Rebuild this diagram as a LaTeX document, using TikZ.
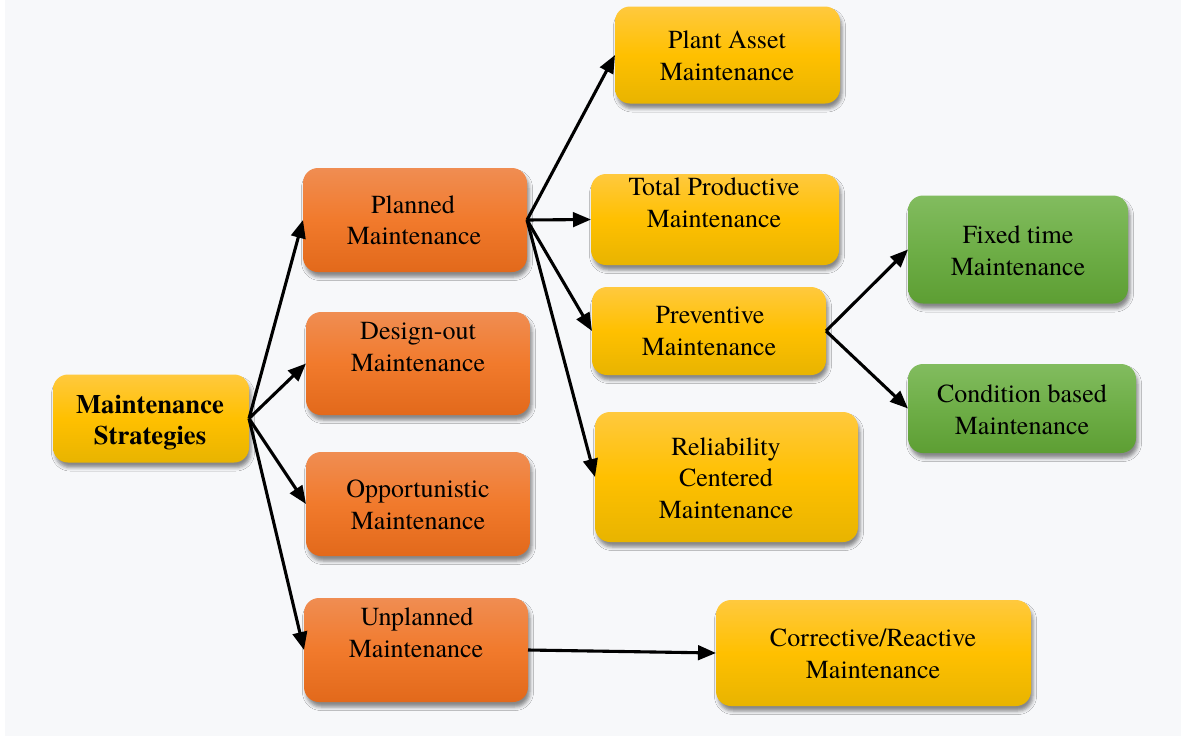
\documentclass[tikz,border=0pt]{standalone}
\usepackage{fontspec}
\setmainfont{texgyretermes}[Extension=.otf, UprightFont=*-regular, BoldFont=*-bold]
\newfontfamily\tnr{texgyretermes}[Extension=.otf, UprightFont=*-regular, BoldFont=*-bold]
\usetikzlibrary{arrows.meta,shadows.blur}
\definecolor{bgc}{HTML}{F7F8FA}
\definecolor{orT}{HTML}{F08D52}
\definecolor{orM}{HTML}{F17A2C}
\definecolor{orB}{HTML}{E2691B}
\definecolor{yeT}{HTML}{FFC93E}
\definecolor{yeM}{HTML}{FFC000}
\definecolor{yeB}{HTML}{E8B400}
\definecolor{grT}{HTML}{82BC5F}
\definecolor{grM}{HTML}{6EAE47}
\definecolor{grB}{HTML}{5D9E33}
\tikzset{
  boxbase/.style={rectangle, rounded corners=15pt, inner sep=0pt, outer sep=0pt,
    blur shadow={shadow xshift=2pt, shadow yshift=-5pt, shadow blur radius=3.5pt, shadow opacity=45}},
  obox/.style={boxbase, top color=orT, bottom color=orB, middle color=orM},
  ybox/.style={boxbase, top color=yeT, bottom color=yeB, middle color=yeM},
  gbox/.style={boxbase, top color=grT, bottom color=grB, middle color=grM},
  lbl/.style={anchor=base, inner sep=0pt, font=\tnr\fontsize{26}{32}\selectfont, text=black},
  blbl/.style={lbl, font=\tnr\fontsize{26.6}{32}\selectfont\bfseries},
  arr/.style={line width=3.1pt, -{Triangle[length=18pt,width=14.5pt]}}
}
\begin{document}
\begin{tikzpicture}[x=1pt,y=-1pt]
\useasboundingbox (0,0) rectangle (1181,736);
\fill[white] (0,0) rectangle (1181,736);
\fill[bgc] (5,0) rectangle (1181,736);

% boxes
\node[ybox, minimum width=196pt, minimum height=88pt] (ms) at (151,418.5) {};
\node[obox, minimum width=224pt, minimum height=104pt] (pm) at (415,220) {};
\node[obox, minimum width=224pt, minimum height=103pt] (dm) at (418,363.5) {};
\node[obox, minimum width=224pt, minimum height=104pt] (om) at (418,504) {};
\node[obox, minimum width=224pt, minimum height=104pt] (um) at (416,650) {};
\node[ybox, minimum width=225pt, minimum height=97pt] (pa) at (727.5,55) {};
\node[ybox, minimum width=248pt, minimum height=91pt] (tp) at (715,219.5) {};
\node[ybox, minimum width=234pt, minimum height=88pt] (pv) at (709,331) {};
\node[ybox, minimum width=263pt, minimum height=130pt] (rc) at (726.5,477) {};
\node[ybox, minimum width=315pt, minimum height=106pt] (cr) at (873.5,653) {};
\node[gbox, minimum width=220pt, minimum height=108pt] (ft) at (1018,249.5) {};
\node[gbox, minimum width=228pt, minimum height=89pt] (cb) at (1022,408.5) {};

% labels
\node[blbl] (msA) at (150,413) {Maintenance};
\node[blbl] (msB) at (150,444) {Strategies};
\node[lbl] (pmA) at (413,213) {Planned};
\node[lbl] (pmB) at (414,244) {Maintenance};
\node[lbl] (dmA) at (418,339) {Design-out};
\node[lbl] (dmB) at (418,371) {Maintenance};
\node[lbl] (omA) at (418,497) {Opportunistic};
\node[lbl] (omB) at (418,529) {Maintenance};
\node[lbl] (umA) at (417,625) {Unplanned};
\node[lbl] (umB) at (416,657) {Maintenance};
\node[lbl] (paA) at (727,48) {Plant Asset};
\node[lbl] (paB) at (727,80) {Maintenance};
\node[lbl] (tpA) at (714,195) {Total Productive};
\node[lbl] (tpB) at (714,227) {Maintenance};
\node[lbl] (pvA) at (710,323) {Preventive};
\node[lbl] (pvB) at (709,355) {Maintenance};
\node[lbl] (rcA) at (726,455) {Reliability};
\node[lbl] (rcB) at (726,486) {Centered};
\node[lbl] (rcC) at (726,518) {Maintenance};
\node[lbl] (crA) at (873,646) {Corrective/Reactive};
\node[lbl] (crB) at (873,678) {Maintenance};
\node[lbl] (ftA) at (1018,243) {Fixed time};
\node[lbl] (ftB) at (1018,275) {Maintenance};
\node[lbl] (cbA) at (1022,402) {Condition based};
\node[lbl] (cbB) at (1022,434) {Maintenance};

% connectors
\draw[arr] (ms.east) -- (pm.west);
\draw[arr] (ms.east) -- (dm.west);
\draw[arr] (ms.east) -- (om.west);
\draw[arr] (ms.east) -- (um.west);
\draw[arr] (pm.east) -- (pa.west);
\draw[arr] (pm.east) -- (tp.west);
\draw[arr] (pm.east) -- (pv.west);
\draw[arr] (pm.east) -- (rc.west);
\draw[arr] (pv.east) -- (ft.west);
\draw[arr] (pv.east) -- (cb.west);
\draw[arr] (um.east) -- (cr.west);
\end{tikzpicture}
\end{document}
